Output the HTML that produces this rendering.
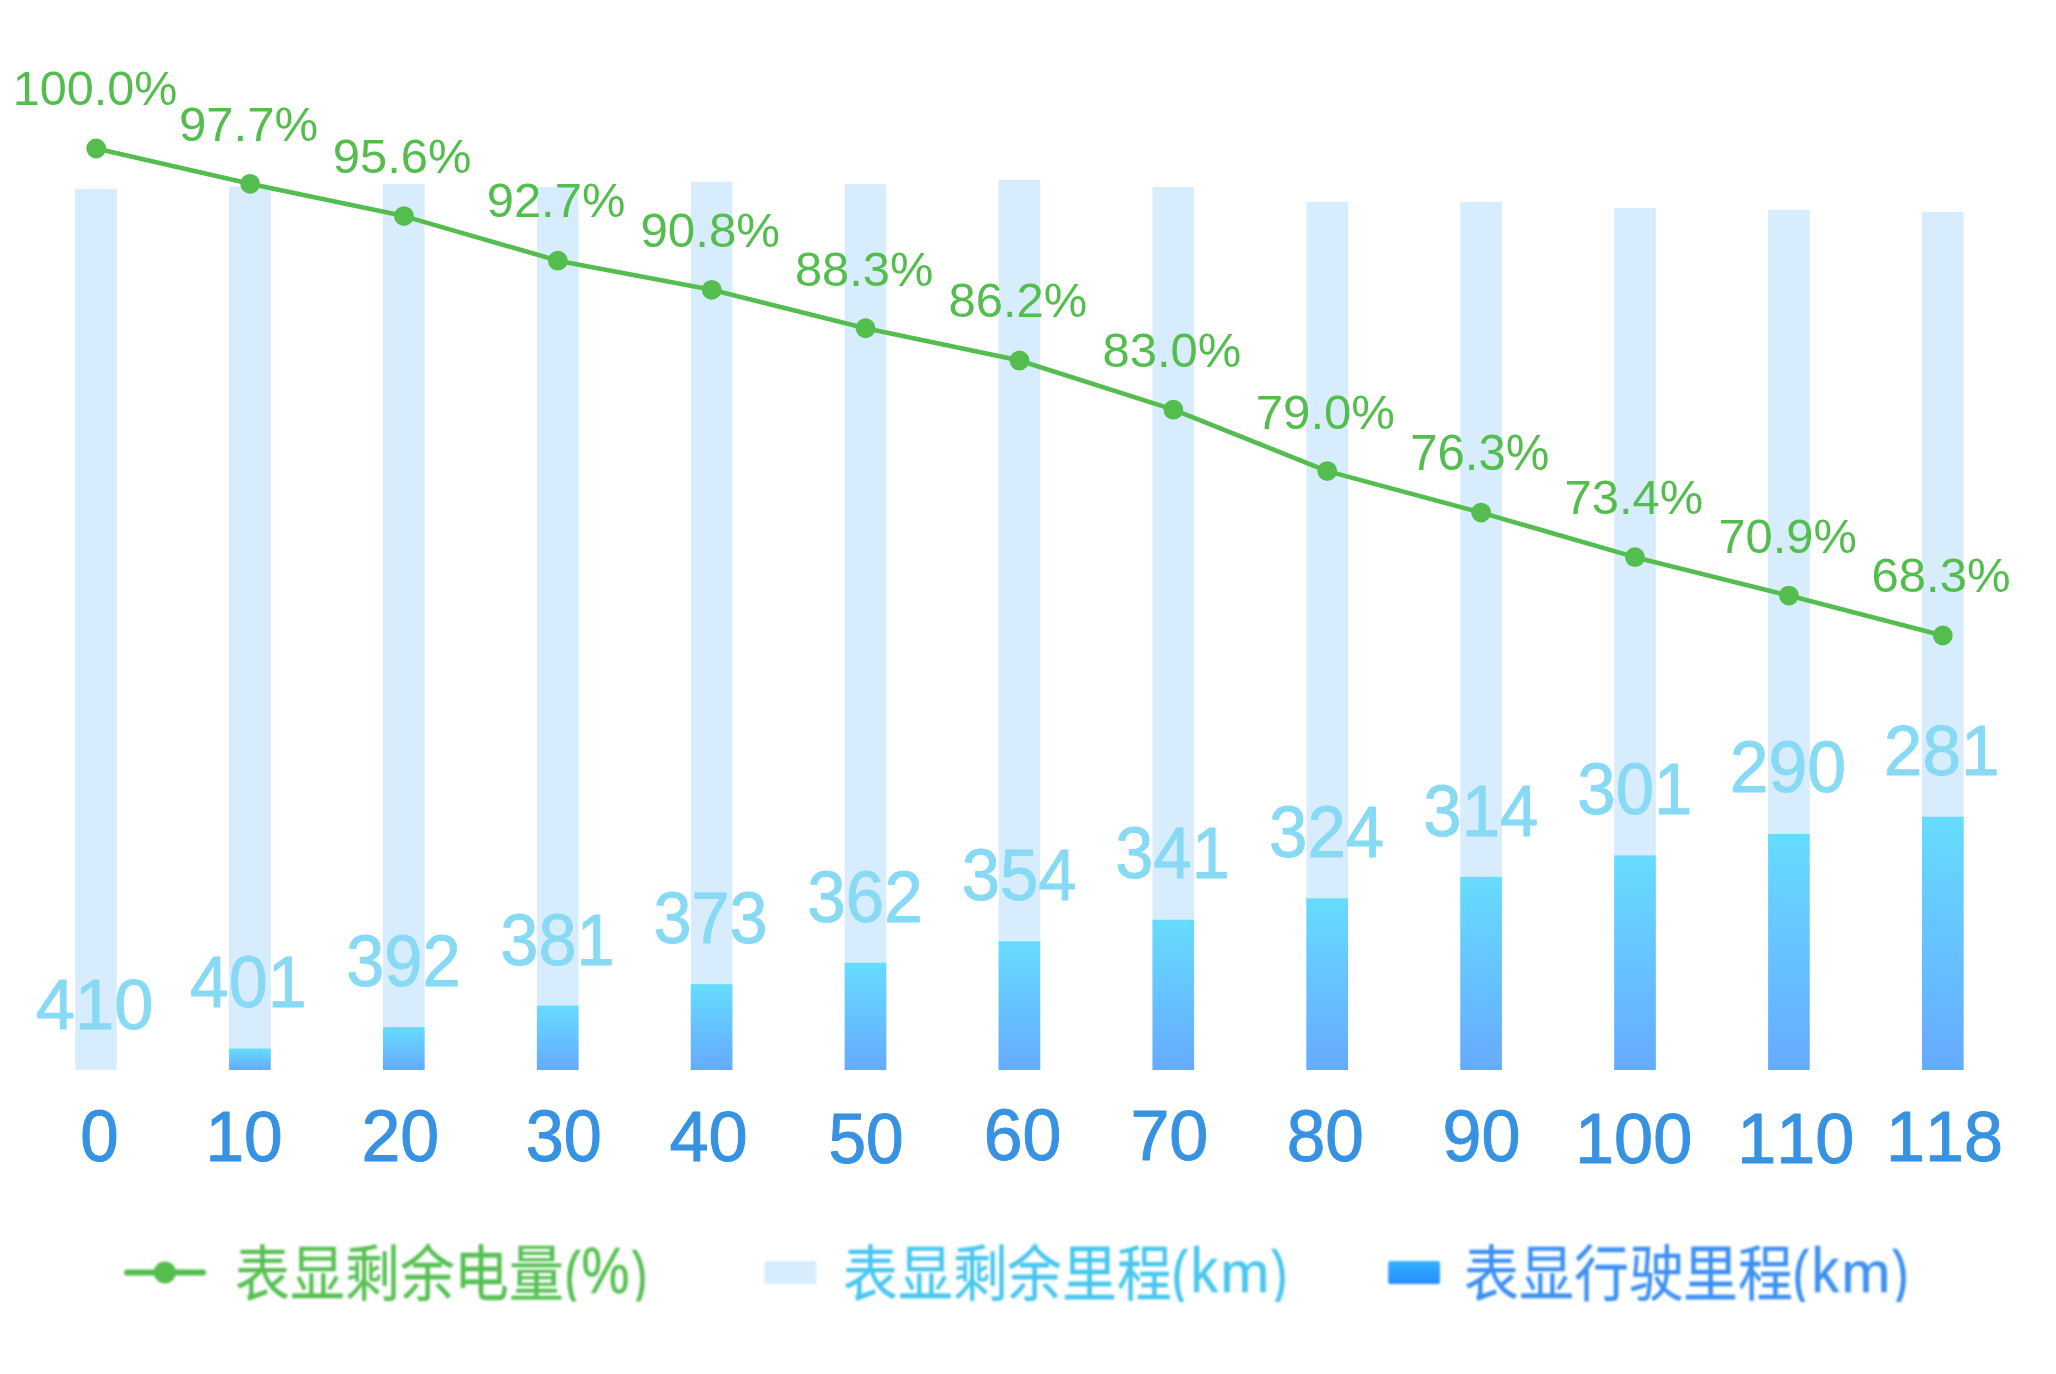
<!DOCTYPE html>
<html lang="zh-CN"><head><meta charset="utf-8"><title>chart</title>
<style>
html,body{margin:0;padding:0;background:#fff;width:2056px;height:1374px;overflow:hidden}
svg{display:block}
text{font-family:"Liberation Sans",sans-serif;font-kerning:none;font-feature-settings:"kern" 0}
</style></head><body>
<svg width="2056" height="1374" viewBox="0 0 2056 1374">
<defs>
<linearGradient id="gd" x1="0" y1="0" x2="0" y2="1"><stop offset="0" stop-color="#66DCFF"/><stop offset="1" stop-color="#66AAFF"/></linearGradient>
<linearGradient id="gl" x1="0" y1="0" x2="0" y2="1"><stop offset="0" stop-color="#33B1FF"/><stop offset="1" stop-color="#268CFF"/></linearGradient>
<filter id="bl" x="-5%" y="-20%" width="110%" height="140%"><feGaussianBlur stdDeviation="0.9"/></filter>
</defs>
<rect width="2056" height="1374" fill="#fff"/>
<rect x="75.20" y="188.90" width="41.6" height="881.10" fill="#D7ECFC"/>
<rect x="229.10" y="186.50" width="41.6" height="883.50" fill="#D7ECFC"/>
<rect x="229.10" y="1048.54" width="41.6" height="21.46" fill="url(#gd)"/>
<rect x="383.00" y="184.00" width="41.6" height="886.00" fill="#D7ECFC"/>
<rect x="383.00" y="1027.08" width="41.6" height="42.92" fill="url(#gd)"/>
<rect x="536.90" y="187.00" width="41.6" height="883.00" fill="#D7ECFC"/>
<rect x="536.90" y="1005.62" width="41.6" height="64.38" fill="url(#gd)"/>
<rect x="690.80" y="181.70" width="41.6" height="888.30" fill="#D7ECFC"/>
<rect x="690.80" y="984.16" width="41.6" height="85.84" fill="url(#gd)"/>
<rect x="844.70" y="184.10" width="41.6" height="885.90" fill="#D7ECFC"/>
<rect x="844.70" y="962.70" width="41.6" height="107.30" fill="url(#gd)"/>
<rect x="998.60" y="180.00" width="41.6" height="890.00" fill="#D7ECFC"/>
<rect x="998.60" y="941.24" width="41.6" height="128.76" fill="url(#gd)"/>
<rect x="1152.50" y="187.00" width="41.6" height="883.00" fill="#D7ECFC"/>
<rect x="1152.50" y="919.78" width="41.6" height="150.22" fill="url(#gd)"/>
<rect x="1306.40" y="201.90" width="41.6" height="868.10" fill="#D7ECFC"/>
<rect x="1306.40" y="898.32" width="41.6" height="171.68" fill="url(#gd)"/>
<rect x="1460.30" y="201.90" width="41.6" height="868.10" fill="#D7ECFC"/>
<rect x="1460.30" y="876.86" width="41.6" height="193.14" fill="url(#gd)"/>
<rect x="1614.20" y="208.00" width="41.6" height="862.00" fill="#D7ECFC"/>
<rect x="1614.20" y="855.40" width="41.6" height="214.60" fill="url(#gd)"/>
<rect x="1768.10" y="209.90" width="41.6" height="860.10" fill="#D7ECFC"/>
<rect x="1768.10" y="833.94" width="41.6" height="236.06" fill="url(#gd)"/>
<rect x="1922.00" y="211.90" width="41.6" height="858.10" fill="#D7ECFC"/>
<rect x="1922.00" y="816.77" width="41.6" height="253.23" fill="url(#gd)"/>
<polyline points="96.20,148.50 250.08,183.83 403.96,216.10 557.84,260.65 711.72,289.84 865.60,328.25 1019.48,360.51 1173.36,409.67 1327.24,471.12 1481.12,512.60 1635.00,557.16 1788.88,595.56 1942.76,635.51" fill="none" stroke="#53BE4E" stroke-width="4.6" stroke-linejoin="round"/>
<circle cx="96.20" cy="148.50" r="9.9" fill="#53BE4E"/>
<circle cx="250.08" cy="183.83" r="9.9" fill="#53BE4E"/>
<circle cx="403.96" cy="216.10" r="9.9" fill="#53BE4E"/>
<circle cx="557.84" cy="260.65" r="9.9" fill="#53BE4E"/>
<circle cx="711.72" cy="289.84" r="9.9" fill="#53BE4E"/>
<circle cx="865.60" cy="328.25" r="9.9" fill="#53BE4E"/>
<circle cx="1019.48" cy="360.51" r="9.9" fill="#53BE4E"/>
<circle cx="1173.36" cy="409.67" r="9.9" fill="#53BE4E"/>
<circle cx="1327.24" cy="471.12" r="9.9" fill="#53BE4E"/>
<circle cx="1481.12" cy="512.60" r="9.9" fill="#53BE4E"/>
<circle cx="1635.00" cy="557.16" r="9.9" fill="#53BE4E"/>
<circle cx="1788.88" cy="595.56" r="9.9" fill="#53BE4E"/>
<circle cx="1942.76" cy="635.51" r="9.9" fill="#53BE4E"/>
<text transform="translate(12.80 104.94) scale(0.4851 0.4760)" font-size="100" fill="#53BE4E">100.0%</text>
<text transform="translate(178.89 140.93) scale(0.4918 0.4859)" font-size="100" fill="#53BE4E">97.7%</text>
<text transform="translate(332.81 173.03) scale(0.4893 0.4859)" font-size="100" fill="#53BE4E">95.6%</text>
<text transform="translate(486.71 217.34) scale(0.4893 0.4746)" font-size="100" fill="#53BE4E">92.7%</text>
<text transform="translate(640.39 247.03) scale(0.4929 0.4816)" font-size="100" fill="#53BE4E">90.8%</text>
<text transform="translate(794.98 285.93) scale(0.4880 0.4816)" font-size="100" fill="#53BE4E">88.3%</text>
<text transform="translate(948.57 317.34) scale(0.4894 0.4746)" font-size="100" fill="#53BE4E">86.2%</text>
<text transform="translate(1102.47 366.53) scale(0.4898 0.4830)" font-size="100" fill="#53BE4E">83.0%</text>
<text transform="translate(1255.78 428.53) scale(0.4912 0.4830)" font-size="100" fill="#53BE4E">79.0%</text>
<text transform="translate(1410.18 470.32) scale(0.4908 0.4929)" font-size="100" fill="#53BE4E">76.3%</text>
<text transform="translate(1564.59 514.03) scale(0.4894 0.4816)" font-size="100" fill="#53BE4E">73.4%</text>
<text transform="translate(1718.40 552.73) scale(0.4883 0.4830)" font-size="100" fill="#53BE4E">70.9%</text>
<text transform="translate(1871.61 592.33) scale(0.4900 0.4816)" font-size="100" fill="#53BE4E">68.3%</text>
<text transform="translate(35.83 1028.67) scale(0.7059 0.6977)" font-size="100" fill="#88DAF4" stroke="#88DAF4" stroke-width="1.282" stroke-linejoin="round">410</text>
<text transform="translate(189.84 1007.25) scale(0.7008 0.7147)" font-size="100" fill="#88DAF4" stroke="#88DAF4" stroke-width="1.272" stroke-linejoin="round">401</text>
<text transform="translate(346.13 986.15) scale(0.6867 0.7161)" font-size="100" fill="#88DAF4" stroke="#88DAF4" stroke-width="1.283" stroke-linejoin="round">392</text>
<text transform="translate(500.24 964.74) scale(0.6860 0.7260)" font-size="100" fill="#88DAF4" stroke="#88DAF4" stroke-width="1.275" stroke-linejoin="round">381</text>
<text transform="translate(653.45 943.35) scale(0.6839 0.7217)" font-size="100" fill="#88DAF4" stroke="#88DAF4" stroke-width="1.281" stroke-linejoin="round">373</text>
<text transform="translate(807.32 922.24) scale(0.6917 0.7260)" font-size="100" fill="#88DAF4" stroke="#88DAF4" stroke-width="1.270" stroke-linejoin="round">362</text>
<text transform="translate(961.63 900.35) scale(0.6889 0.7147)" font-size="100" fill="#88DAF4" stroke="#88DAF4" stroke-width="1.282" stroke-linejoin="round">354</text>
<text transform="translate(1115.33 878.45) scale(0.6867 0.7147)" font-size="100" fill="#88DAF4" stroke="#88DAF4" stroke-width="1.284" stroke-linejoin="round">341</text>
<text transform="translate(1269.02 857.35) scale(0.6902 0.7189)" font-size="100" fill="#88DAF4" stroke="#88DAF4" stroke-width="1.277" stroke-linejoin="round">324</text>
<text transform="translate(1423.33 835.55) scale(0.6889 0.7161)" font-size="100" fill="#88DAF4" stroke="#88DAF4" stroke-width="1.281" stroke-linejoin="round">314</text>
<text transform="translate(1577.33 814.35) scale(0.6892 0.7189)" font-size="100" fill="#88DAF4" stroke="#88DAF4" stroke-width="1.278" stroke-linejoin="round">301</text>
<text transform="translate(1729.64 792.45) scale(0.6979 0.7189)" font-size="100" fill="#88DAF4" stroke="#88DAF4" stroke-width="1.270" stroke-linejoin="round">290</text>
<text transform="translate(1883.86 774.96) scale(0.6946 0.7076)" font-size="100" fill="#88DAF4" stroke="#88DAF4" stroke-width="1.284" stroke-linejoin="round">281</text>
<text transform="translate(80.20 1160.70) scale(0.6903 0.7175)" font-size="100" fill="#3792E2" stroke="#3792E2" stroke-width="1.421" stroke-linejoin="round">0</text>
<text transform="translate(205.41 1160.71) scale(0.6940 0.7090)" font-size="100" fill="#3792E2" stroke="#3792E2" stroke-width="1.425" stroke-linejoin="round">10</text>
<text transform="translate(361.48 1161.10) scale(0.6990 0.7147)" font-size="100" fill="#3792E2" stroke="#3792E2" stroke-width="1.415" stroke-linejoin="round">20</text>
<text transform="translate(525.70 1160.70) scale(0.6840 0.7175)" font-size="100" fill="#3792E2" stroke="#3792E2" stroke-width="1.427" stroke-linejoin="round">30</text>
<text transform="translate(669.49 1160.71) scale(0.7036 0.7090)" font-size="100" fill="#3792E2" stroke="#3792E2" stroke-width="1.416" stroke-linejoin="round">40</text>
<text transform="translate(828.50 1162.61) scale(0.6756 0.7090)" font-size="100" fill="#3792E2" stroke="#3792E2" stroke-width="1.444" stroke-linejoin="round">50</text>
<text transform="translate(983.75 1160.10) scale(0.6983 0.7147)" font-size="100" fill="#3792E2" stroke="#3792E2" stroke-width="1.415" stroke-linejoin="round">60</text>
<text transform="translate(1130.41 1160.12) scale(0.7006 0.7006)" font-size="100" fill="#3792E2" stroke="#3792E2" stroke-width="1.427" stroke-linejoin="round">70</text>
<text transform="translate(1286.69 1161.10) scale(0.6933 0.7147)" font-size="100" fill="#3792E2" stroke="#3792E2" stroke-width="1.420" stroke-linejoin="round">80</text>
<text transform="translate(1442.52 1161.10) scale(0.7005 0.7147)" font-size="100" fill="#3792E2" stroke="#3792E2" stroke-width="1.413" stroke-linejoin="round">90</text>
<text transform="translate(1575.05 1162.61) scale(0.7024 0.7090)" font-size="100" fill="#3792E2" stroke="#3792E2" stroke-width="1.417" stroke-linejoin="round">100</text>
<text transform="translate(1737.15 1162.61) scale(0.7018 0.7090)" font-size="100" fill="#3792E2" stroke="#3792E2" stroke-width="1.418" stroke-linejoin="round">110</text>
<text transform="translate(1886.06 1160.52) scale(0.7005 0.6963)" font-size="100" fill="#3792E2" stroke="#3792E2" stroke-width="1.432" stroke-linejoin="round">118</text>
<g filter="url(#bl)"><line x1="127" y1="1272.4" x2="203" y2="1272.4" stroke="#53BE4E" stroke-width="6" stroke-linecap="round"/>
<circle cx="164.9" cy="1272.4" r="11" fill="#53BE4E"/>
<rect x="764.4" y="1261" width="51.8" height="23" fill="#D7ECFC"/>
<rect x="1388.2" y="1261" width="51.8" height="23" rx="2" fill="url(#gl)"/></g>
<clipPath id="lc"><rect x="0" y="1200" width="2056" height="101.6"/></clipPath><g filter="url(#bl)"><g clip-path="url(#lc)">
<text transform="translate(235.10 1295.81) scale(0.5492 0.6108)" font-size="100" fill="#57C053" stroke="#57C053" stroke-width="0.431">表显剩余电量</text>
<text transform="translate(842.90 1295.81) scale(0.5492 0.6108)" font-size="100" fill="#46C6EE" stroke="#46C6EE" stroke-width="0.431">表显剩余里程</text>
<text transform="translate(1464.00 1295.81) scale(0.5492 0.6108)" font-size="100" fill="#3C90F2" stroke="#3C90F2" stroke-width="0.431">表显行驶里程</text>
<text transform="translate(564.29 1295.83) scale(0.4941 0.6346)" font-size="100" fill="#57C053" stroke="#57C053" stroke-width="0.886" stroke-linejoin="round">(</text>
<text transform="translate(581.52 1292.77) scale(0.5404 0.6403)" font-size="100" fill="#57C053" stroke="#57C053" stroke-width="0.847" stroke-linejoin="round">%</text>
<text transform="translate(631.77 1295.83) scale(0.4752 0.6346)" font-size="100" fill="#57C053" stroke="#57C053" stroke-width="0.901" stroke-linejoin="round">)</text>
<text transform="translate(1171.59 1295.33) scale(0.4941 0.6346)" font-size="100" fill="#46C6EE" stroke="#46C6EE" stroke-width="0.886" stroke-linejoin="round">(</text>
<text transform="translate(1190.46 1292.15) scale(0.5483 0.6238)" font-size="100" fill="#46C6EE" stroke="#46C6EE" stroke-width="0.853" stroke-linejoin="round">k</text>
<text transform="translate(1220.33 1292.15) scale(0.5909 0.5780)" font-size="100" fill="#46C6EE" stroke="#46C6EE" stroke-width="0.856" stroke-linejoin="round">m</text>
<text transform="translate(1271.16 1295.33) scale(0.4941 0.6346)" font-size="100" fill="#46C6EE" stroke="#46C6EE" stroke-width="0.886" stroke-linejoin="round">)</text>
<text transform="translate(1792.59 1295.33) scale(0.4941 0.6346)" font-size="100" fill="#3C90F2" stroke="#3C90F2" stroke-width="0.886" stroke-linejoin="round">(</text>
<text transform="translate(1811.46 1292.15) scale(0.5483 0.6238)" font-size="100" fill="#3C90F2" stroke="#3C90F2" stroke-width="0.853" stroke-linejoin="round">k</text>
<text transform="translate(1841.33 1292.15) scale(0.5909 0.5780)" font-size="100" fill="#3C90F2" stroke="#3C90F2" stroke-width="0.856" stroke-linejoin="round">m</text>
<text transform="translate(1892.16 1295.33) scale(0.4941 0.6346)" font-size="100" fill="#3C90F2" stroke="#3C90F2" stroke-width="0.886" stroke-linejoin="round">)</text>
</g></g>
</svg></body></html>
